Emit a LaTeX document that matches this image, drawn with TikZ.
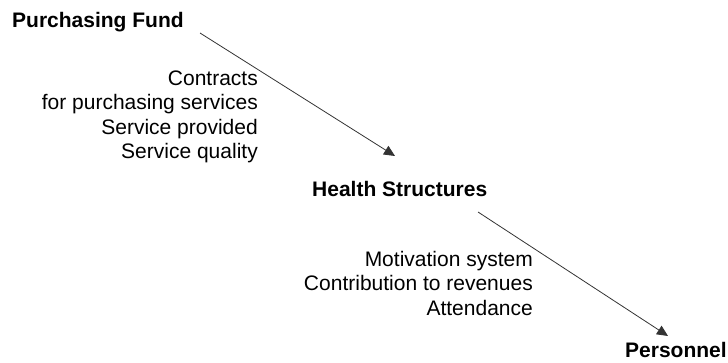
\documentclass[tikz,border=0pt]{standalone}
\usepackage{fontspec}
\setmainfont{Liberation Sans}
\usetikzlibrary{arrows.meta}
\begin{document}
\begin{tikzpicture}[x=1pt,y=-1pt,
  actor/.style={font=\fontsize{21}{24}\selectfont\bfseries, inner sep=0pt},
  flowtext/.style={font=\fontsize{21}{24.5}\selectfont, align=right, inner sep=0pt, anchor=east},
  flow/.style={draw=black!80, line width=0.8pt, -{Triangle[length=11pt,width=10pt]}}]
\useasboundingbox (0,0) rectangle (728,363);
\node[actor, anchor=west] (pf) at (12,22) {Purchasing Fund};
\node[actor, anchor=west] (hs) at (312,189) {Health Structures};
\node[actor, anchor=west] (pe) at (625,350) {Personnel};
\node[flowtext] (t1) at (258,117) {Contracts\\for purchasing services\\Service provided\\Service quality};
\node[flowtext] (t2) at (533,283) {Motivation system\\Contribution to revenues\\Attendance};
\coordinate (a1s) at (200,33);
\coordinate (a1e) at (395,156);
\coordinate (a2s) at (478,212);
\coordinate (a2e) at (668,336);
\draw[flow] (a1s) -- (a1e);
\draw[flow] (a2s) -- (a2e);
\end{tikzpicture}
\end{document}
